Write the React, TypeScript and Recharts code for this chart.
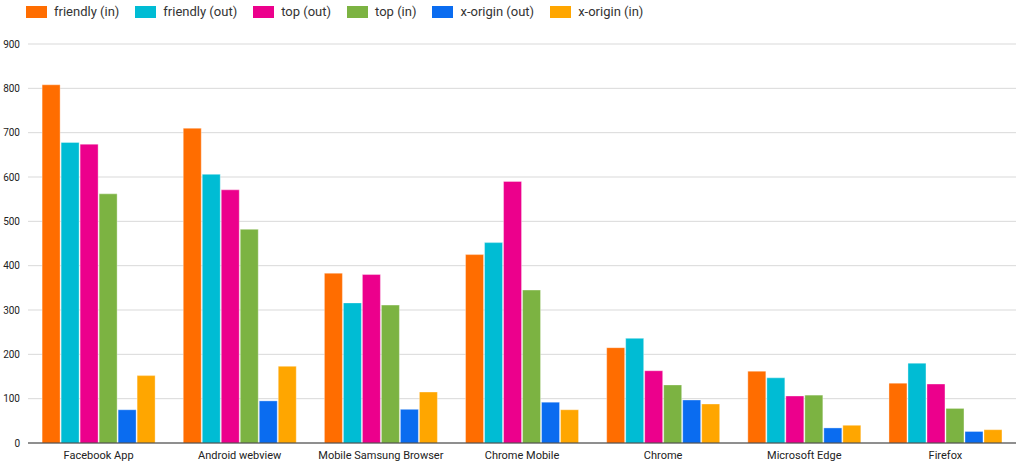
import { BarChart, Bar, XAxis, YAxis, CartesianGrid, Legend } from "recharts";

const browsers = ["Facebook App", "Android webview", "Mobile Samsung Browser", "Chrome Mobile", "Chrome", "Microsoft Edge", "Firefox"];
const friendlyIn = [808, 710, 383, 425, 215, 162, 135];
const friendlyOut = [678, 606, 316, 452, 236, 147, 180];
const topOut = [674, 571, 380, 590, 163, 106, 133];
const topIn = [562, 482, 311, 345, 131, 108, 78];
const xOriginOut = [75, 95, 76, 92, 97, 34, 26];
const xOriginIn = [152, 173, 115, 75, 88, 40, 30];
const yTicks = [0, 100, 200, 300, 400, 500, 600, 700, 800, 900];
const gridTicks = [0, 50, 100, 150, 200, 250, 300, 350, 400, 450, 500, 550, 600, 650, 700, 750, 800, 850, 900];

const data = browsers.map((name, i) => ({
  name,
  fi: friendlyIn[i], fo: friendlyOut[i], to: topOut[i], ti: topIn[i], xo: xOriginOut[i], xi: xOriginIn[i],
}));

const SERIES = [
  { key: "fi", name: "friendly (in)", color: "#ff6d00" },
  { key: "fo", name: "friendly (out)", color: "#00bcd4" },
  { key: "to", name: "top (out)", color: "#ec008c" },
  { key: "ti", name: "top (in)", color: "#7cb342" },
  { key: "xo", name: "x-origin (out)", color: "#0a6cf0" },
  { key: "xi", name: "x-origin (in)", color: "#ffa600" },
];

const FONT = "Roboto, sans-serif";

function TopLegend() {
  return (
    <div style={{ display: "flex", gap: 16, fontFamily: FONT, fontSize: 13, color: "#333", paddingLeft: 26 }}>
      {SERIES.map((s) => (
        <div key={s.key} style={{ display: "flex", alignItems: "center", gap: 7 }}>
          <span style={{ width: 21, height: 12, background: s.color, display: "inline-block" }} />
          {s.name}
        </div>
      ))}
    </div>
  );
}

export default function App() {
  return (
    <div style={{ position: "absolute", left: 0, top: 0, background: "#fff" }}>
      <BarChart width={1024} height={467} data={data} margin={{ top: 29, right: 8, left: 0, bottom: 0 }} barCategoryGap="10%" barGap={1}>
        <CartesianGrid vertical={false} stroke="#d9d9d9" horizontalValues={gridTicks} />
        <XAxis dataKey="name" tick={{ fontSize: 11, fill: "#222", fontFamily: FONT }} tickLine={false} axisLine={{ stroke: "#333" }} height={24} interval={0} />
        <YAxis domain={[0, 900]} ticks={yTicks} width={28} tick={{ fontSize: 10, fill: "#222", fontFamily: FONT }} tickLine={false} axisLine={false} />
        <Legend verticalAlign="top" align="left" content={<TopLegend />} wrapperStyle={{ top: 4, left: 0 }} />
        {SERIES.map((s) => (
          <Bar key={s.key} dataKey={s.key} name={s.name} fill={s.color} stroke="rgba(255,255,255,0.35)" isAnimationActive={false} />
        ))}
      </BarChart>
    </div>
  );
}
